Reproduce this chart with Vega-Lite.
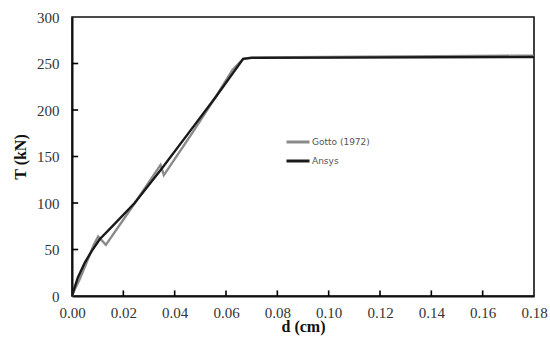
{
  "$schema": "https://vega.github.io/schema/vega-lite/v6.json",
  "width": 462,
  "height": 279,
  "autosize": {"type": "none"},
  "padding": {"left": 72, "top": 17, "right": 16, "bottom": 45},
  "background": "white",
  "config": {
    "view": {"stroke": "#111", "strokeWidth": 1.6},
    "axis": {"grid": false, "ticks": false, "zindex": 2, "domainColor": "#111", "domainWidth": 2,
      "labelFlush": false, "labelOverlap": false, "labelBound": false,
      "labelFont": "Liberation Serif", "labelFontSize": 15, "labelColor": "#333",
      "titleFont": "Liberation Serif", "titleFontSize": 16, "titleFontWeight": "bold", "titleColor": "#111"}
  },
  "datasets": {
    "curves": [
      {"d": 0, "T": 0, "s": "Gotto (1972)"},
      {"d": 0.0012, "T": 8, "s": "Gotto (1972)"},
      {"d": 0.003, "T": 18, "s": "Gotto (1972)"},
      {"d": 0.006, "T": 38, "s": "Gotto (1972)"},
      {"d": 0.0085, "T": 55, "s": "Gotto (1972)"},
      {"d": 0.0102, "T": 64, "s": "Gotto (1972)"},
      {"d": 0.0132, "T": 55, "s": "Gotto (1972)"},
      {"d": 0.0245, "T": 100, "s": "Gotto (1972)"},
      {"d": 0.0345, "T": 141, "s": "Gotto (1972)"},
      {"d": 0.0358, "T": 130, "s": "Gotto (1972)"},
      {"d": 0.047, "T": 176, "s": "Gotto (1972)"},
      {"d": 0.056, "T": 214, "s": "Gotto (1972)"},
      {"d": 0.0625, "T": 243, "s": "Gotto (1972)"},
      {"d": 0.0667, "T": 255, "s": "Gotto (1972)"},
      {"d": 0.07, "T": 256.5, "s": "Gotto (1972)"},
      {"d": 0.18, "T": 258.5, "s": "Gotto (1972)"},
      {"d": 0, "T": 0, "s": "Ansys"},
      {"d": 0.001, "T": 9, "s": "Ansys"},
      {"d": 0.0023, "T": 20, "s": "Ansys"},
      {"d": 0.005, "T": 36, "s": "Ansys"},
      {"d": 0.0076, "T": 48, "s": "Ansys"},
      {"d": 0.0108, "T": 61, "s": "Ansys"},
      {"d": 0.0154, "T": 74, "s": "Ansys"},
      {"d": 0.0244, "T": 100, "s": "Ansys"},
      {"d": 0.035, "T": 137, "s": "Ansys"},
      {"d": 0.0459, "T": 177, "s": "Ansys"},
      {"d": 0.056, "T": 214, "s": "Ansys"},
      {"d": 0.0667, "T": 255, "s": "Ansys"},
      {"d": 0.07, "T": 256, "s": "Ansys"},
      {"d": 0.18, "T": 257, "s": "Ansys"}
    ],
    "xticks": [{"v": 0.02}, {"v": 0.04}, {"v": 0.06}, {"v": 0.08}, {"v": 0.1}, {"v": 0.12}, {"v": 0.14}, {"v": 0.16}],
    "yticks": [{"v": 50}, {"v": 100}, {"v": 150}, {"v": 200}, {"v": 250}]
  },
  "layer": [
    {
      "data": {"name": "xticks"},
      "mark": {"type": "rule", "color": "#000", "strokeWidth": 1.6},
      "encoding": {
        "x": {"field": "v", "type": "quantitative"},
        "y": {"datum": 0},
        "y2": {"datum": 6}
      }
    },
    {
      "data": {"name": "yticks"},
      "mark": {"type": "rule", "color": "#000", "strokeWidth": 1.6},
      "encoding": {
        "y": {"field": "v", "type": "quantitative"},
        "x": {"datum": 0},
        "x2": {"datum": 0.0024}
      }
    },
    {
      "data": {"name": "curves"},
      "mark": {"type": "line", "strokeWidth": 2.4, "interpolate": "linear"},
      "encoding": {
        "x": {"field": "d", "type": "quantitative", "title": "d (cm)",
          "scale": {"domain": [0, 0.18], "nice": false},
          "axis": {"values": [0, 0.02, 0.04, 0.06, 0.08, 0.1, 0.12, 0.14, 0.16, 0.18], "format": ".2f",
            "labelPadding": 9, "titlePadding": -2}},
        "y": {"field": "T", "type": "quantitative", "title": "T (kN)",
          "scale": {"domain": [0, 300], "nice": false},
          "axis": {"values": [0, 50, 100, 150, 200, 250, 300], "labelPadding": 13, "titlePadding": 8}},
        "color": {"field": "s", "type": "nominal", "sort": null,
          "scale": {"domain": ["Gotto (1972)", "Ansys"], "range": ["#8a8a8a", "#1a1a1a"]},
          "legend": {"title": null, "orient": "none", "legendX": 213, "legendY": 112, "padding": 0,
            "symbolType": "stroke", "symbolSize": 529, "symbolStrokeWidth": 3, "rowPadding": -2,
            "labelFont": "DejaVu Sans", "labelFontSize": 9, "labelColor": "#555", "labelOffset": 1}}
      }
    }
  ]
}
